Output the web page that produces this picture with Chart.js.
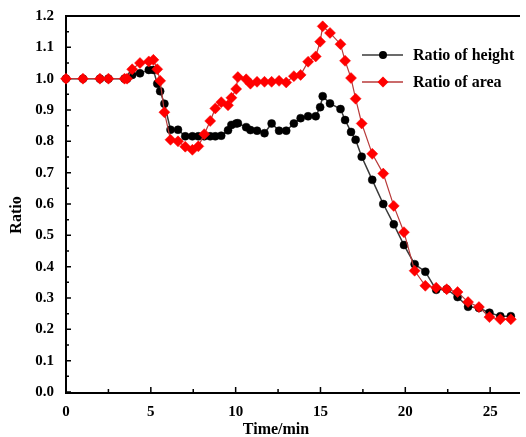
<!DOCTYPE html>
<html>
<head>
<meta charset="utf-8">
<script src="https://cdn.jsdelivr.net/npm/chart.js@4.4.1/dist/chart.umd.min.js"></script>
<style>
  html, body { margin: 0; padding: 0; background: #fff; }
  #wrap { width: 526px; height: 437px; }
</style>
</head>
<body>
<div id="wrap"><canvas id="chart"></canvas></div>
<script>
// sampling times (min), shared by both series
var times = [0, 1, 2, 2.5, 3.45, 3.6, 3.9, 4.36, 4.88, 5.15, 5.38, 5.55, 5.8, 6.16, 6.6, 7.03, 7.45, 7.8,
  8.15, 8.5, 8.8, 9.15, 9.55, 9.75, 10.03, 10.13, 10.62, 10.87, 11.26, 11.7, 12.12, 12.56, 12.98, 13.43,
  13.83, 14.27, 14.72, 14.98, 15.13, 15.56, 16.18, 16.45, 16.8, 17.07, 17.43, 18.05, 18.7, 19.32, 19.92,
  20.55, 21.18, 21.82, 22.44, 23.08, 23.7, 24.34, 24.96, 25.6, 26.22];
var heightRatio = [1, 1, 1, 1, 1, 1, 1.012, 1.017, 1.028, 1.028, 0.984, 0.96, 0.92, 0.837, 0.837, 0.816, 0.816, 0.816,
  0.816, 0.816, 0.816, 0.818, 0.835, 0.852, 0.857, 0.858, 0.845, 0.836, 0.834, 0.826, 0.857, 0.834, 0.834, 0.857,
  0.874, 0.88, 0.88, 0.909, 0.944, 0.921, 0.903, 0.868, 0.83, 0.805, 0.751, 0.677, 0.6, 0.535, 0.469,
  0.408, 0.384, 0.326, 0.328, 0.303, 0.272, 0.268, 0.253, 0.242, 0.242];
var areaRatio = [1, 1, 1, 1, 1, 1, 1.03, 1.05, 1.055, 1.06, 1.03, 0.993, 0.893, 0.805, 0.8, 0.783, 0.773, 0.784,
  0.823, 0.865, 0.905, 0.925, 0.915, 0.939, 0.967, 1.005, 0.998, 0.984, 0.99, 0.99, 0.99, 0.993, 0.988, 1.008,
  1.012, 1.054, 1.071, 1.118, 1.167, 1.146, 1.11, 1.057, 1.002, 0.936, 0.857, 0.76, 0.697, 0.594, 0.51,
  0.387, 0.339, 0.333, 0.328, 0.319, 0.287, 0.271, 0.239, 0.232, 0.232];

var seriesNames = ['Ratio of height', 'Ratio of area'];
var xTicks = [0, 5, 10, 15, 20, 25];
var xMinor = [2.5, 7.5, 12.5, 17.5, 22.5];
var yTicks = [0, 0.1, 0.2, 0.3, 0.4, 0.5, 0.6, 0.7, 0.8, 0.9, 1.0, 1.1, 1.2];

var serif = '"Liberation Serif", "Times New Roman", serif';

function toPoints(xs, ys) {
  return xs.map(function (x, i) { return { x: x, y: ys[i] }; });
}

function drawMark(ctx, style, r, x, y) {
  if (style === 'rectRot') {
    ctx.moveTo(x, y - r); ctx.lineTo(x + r, y); ctx.lineTo(x, y + r); ctx.lineTo(x - r, y); ctx.closePath();
  } else {
    ctx.arc(x, y, r, 0, Math.PI * 2);
  }
}

// axes with inward ticks, axis titles and a line+marker legend
var framePlugin = {
  id: 'frame',
  beforeDatasetsDraw: function (chart) {
    var ctx = chart.ctx, a = chart.chartArea;
    var xs = chart.scales.x, ys = chart.scales.y;
    ctx.save();
    ctx.strokeStyle = '#000';
    ctx.lineWidth = 2;
    ctx.beginPath();
    ctx.moveTo(a.left, a.top);
    ctx.lineTo(a.right, a.top);
    ctx.moveTo(a.left, a.top - 1);
    ctx.lineTo(a.left, a.bottom + 1);
    ctx.lineTo(a.right, a.bottom + 1);
    ctx.stroke();
    ctx.lineWidth = 1.5;
    ctx.beginPath();
    yTicks.forEach(function (v, i) {
      var p = ys.getPixelForValue(v);
      ctx.moveTo(a.left, p); ctx.lineTo(a.left + 5, p);
      if (i < yTicks.length - 1) {
        var m = ys.getPixelForValue(v + 0.05);
        ctx.moveTo(a.left, m); ctx.lineTo(a.left + 3, m);
      }
    });
    xTicks.forEach(function (v) {
      var p = xs.getPixelForValue(v);
      ctx.moveTo(p, a.bottom); ctx.lineTo(p, a.bottom - 5);
    });
    xMinor.forEach(function (v) {
      var p = xs.getPixelForValue(v);
      ctx.moveTo(p, a.bottom); ctx.lineTo(p, a.bottom - 3);
    });
    ctx.stroke();

    ctx.fillStyle = '#000';
    ctx.font = 'bold 16px ' + serif;
    ctx.textAlign = 'center';
    ctx.textBaseline = 'middle';
    ctx.fillText('Time/min', 276, 430);
    ctx.translate(17, 215);
    ctx.rotate(-Math.PI / 2);
    ctx.fillText('Ratio', 0, 0);
    ctx.restore();
  },
  afterDraw: function (chart) {
    var ctx = chart.ctx, a = chart.chartArea;
    var x0 = a.left + 296;
    var rows = [a.top + 39, a.top + 66];
    ctx.save();
    chart.data.datasets.forEach(function (ds, i) {
      var y = rows[i];
      ctx.strokeStyle = ds.borderColor;
      ctx.lineWidth = 1.5;
      ctx.beginPath();
      ctx.moveTo(x0, y); ctx.lineTo(x0 + 41, y);
      ctx.stroke();
      ctx.fillStyle = ds.pointBackgroundColor;
      ctx.beginPath();
      drawMark(ctx, ds.pointStyle, ds.pointRadius, x0 + 21, y);
      ctx.fill();
      ctx.fillStyle = '#000';
      ctx.font = 'bold 16px ' + serif;
      ctx.textAlign = 'left';
      ctx.textBaseline = 'middle';
      ctx.fillText(ds.label, x0 + 51, y + 1);
    });
    ctx.restore();
  }
};

var chart = new Chart(document.getElementById('chart').getContext('2d'), {
  type: 'line',
  data: {
    datasets: [{
      label: seriesNames[0],
      data: toPoints(times, heightRatio),
      borderColor: '#3a3a3a',
      borderWidth: 1.5,
      pointStyle: 'circle',
      pointRadius: 4,
      pointBackgroundColor: '#000',
      pointBorderColor: '#000',
      pointBorderWidth: 0.5,
      tension: 0,
      clip: false,
      order: 1
    }, {
      label: seriesNames[1],
      data: toPoints(times, areaRatio),
      borderColor: '#b83a3a',
      borderWidth: 1.2,
      pointStyle: 'rectRot',
      pointRadius: 5.5,
      pointBackgroundColor: '#ff0000',
      pointBorderColor: '#ff0000',
      pointBorderWidth: 0.5,
      tension: 0,
      clip: false,
      order: 0
    }]
  },
  options: {
    responsive: true,
    maintainAspectRatio: false,
    animation: false,
    layout: { padding: { top: 16, right: 0, left: 0, bottom: 0 } },
    plugins: {
      legend: { display: false },
      tooltip: { enabled: false }
    },
    scales: {
      x: {
        type: 'linear',
        min: 0,
        max: 26.76,
        afterBuildTicks: function (s) { s.ticks = xTicks.map(function (v) { return { value: v }; }); },
        afterFit: function (s) { s.height = 45; s.paddingLeft = 0; s.paddingRight = 0; },
        grid: { display: false, drawTicks: false },
        border: { display: false },
        ticks: {
          padding: 11,
          color: '#000',
          maxRotation: 0,
          font: { family: serif, size: 15, weight: 'bold' }
        }
      },
      y: {
        min: 0,
        max: 1.2,
        afterBuildTicks: function (s) { s.ticks = yTicks.map(function (v) { return { value: v }; }); },
        afterFit: function (s) { s.width = 66; s.paddingTop = 0; s.paddingBottom = 0; },
        grid: { display: false, drawTicks: false },
        border: { display: false },
        ticks: {
          padding: 12,
          color: '#000',
          font: { family: serif, size: 15, weight: 'bold' },
          callback: function (v) { return Number(v).toFixed(1); }
        }
      }
    }
  },
  plugins: [framePlugin]
});
</script>
</body>
</html>
